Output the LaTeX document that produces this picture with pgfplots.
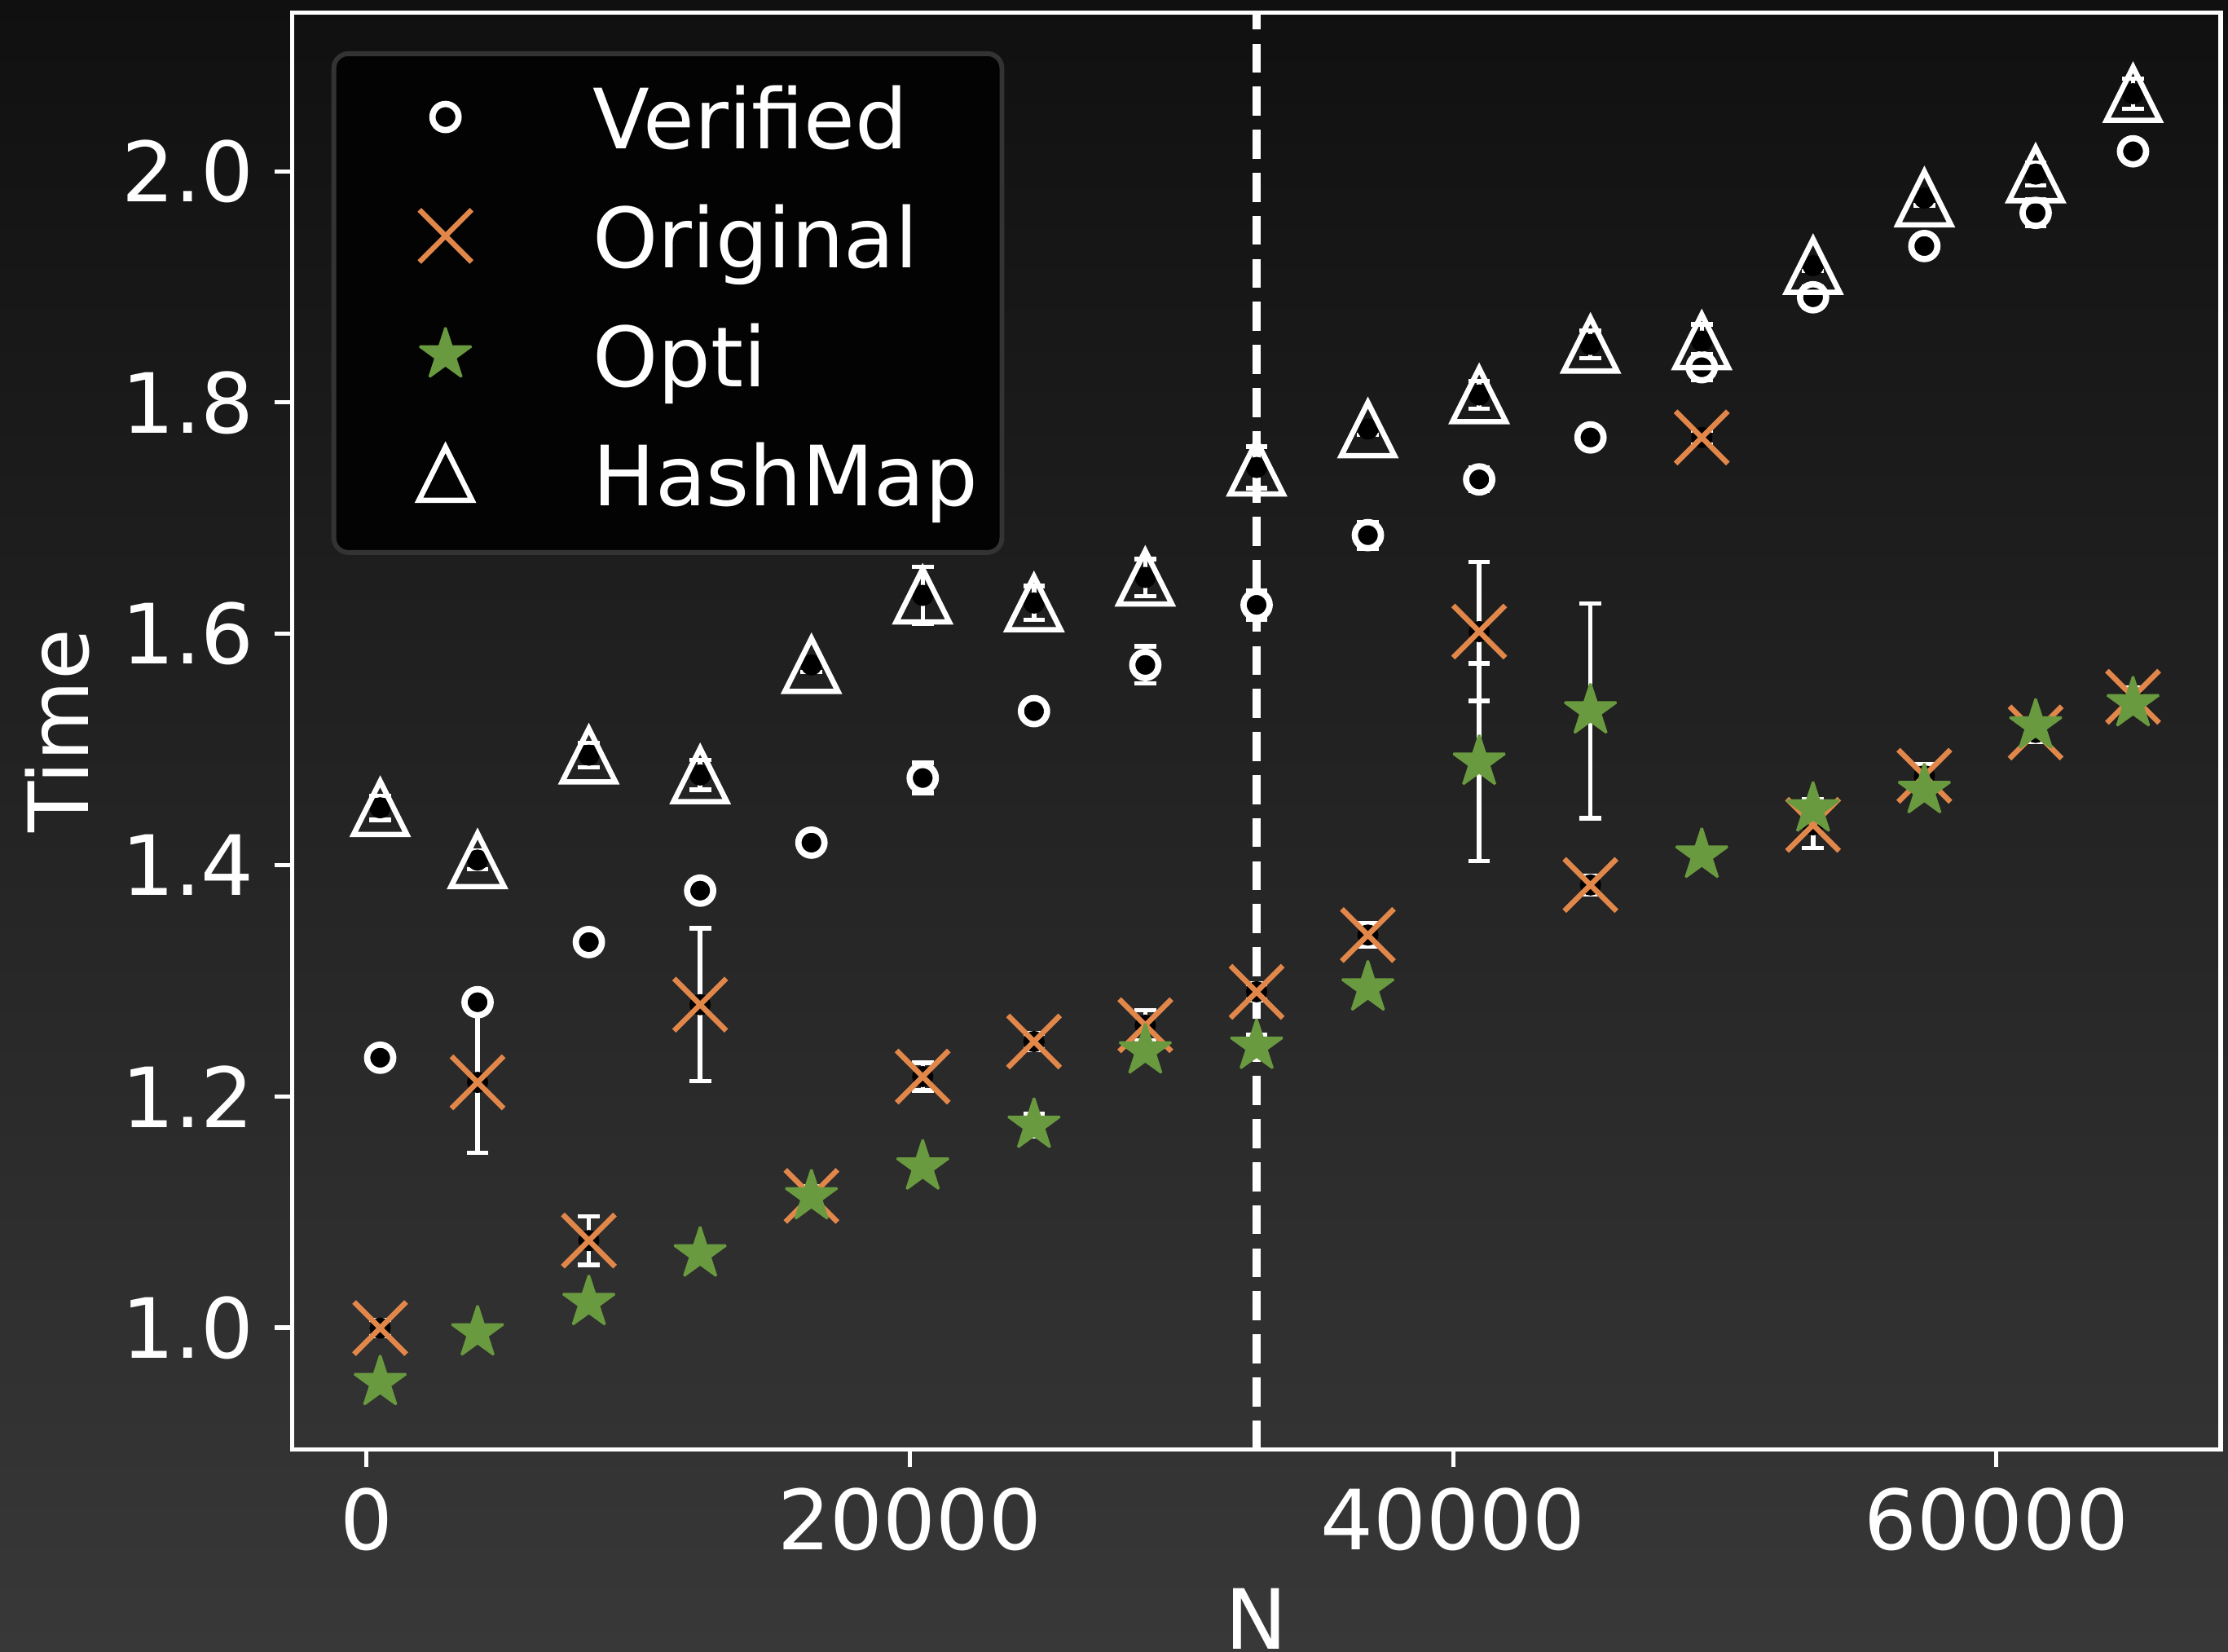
\documentclass[border=0pt]{standalone}
\usepackage{fontspec}
\setmainfont{DejaVu Sans}
\usepackage{pgfplots}
\pgfplotsset{compat=1.18}
\usepackage{pgfplotstable}

\definecolor{bgtop}{RGB}{16,16,16}
\definecolor{bgbot}{RGB}{56,56,56}
\definecolor{mplorange}{RGB}{226,135,74}
\definecolor{mplgreen}{RGB}{106,154,63}
\definecolor{legedge}{RGB}{51,51,51}
\definecolor{legfill}{RGB}{3,3,3}

\pgfdeclareplotmark{mpltri}{%
  \pgfpathmoveto{\pgfqpoint{0pt}{\pgfplotmarksize}}%
  \pgfpathlineto{\pgfqpoint{-\pgfplotmarksize}{-\pgfplotmarksize}}%
  \pgfpathlineto{\pgfqpoint{\pgfplotmarksize}{-\pgfplotmarksize}}%
  \pgfpathclose
  \pgfusepathqstroke}
\pgfdeclareplotmark{mplx}{%
  \pgfpathmoveto{\pgfqpoint{-\pgfplotmarksize}{-\pgfplotmarksize}}%
  \pgfpathlineto{\pgfqpoint{\pgfplotmarksize}{\pgfplotmarksize}}%
  \pgfpathmoveto{\pgfqpoint{-\pgfplotmarksize}{\pgfplotmarksize}}%
  \pgfpathlineto{\pgfqpoint{\pgfplotmarksize}{-\pgfplotmarksize}}%
  \pgfusepathqstroke}
\pgfdeclareplotmark{mplstar}{%
  \pgfpathmoveto{\pgfpointpolar{90}{\pgfplotmarksize}}%
  \pgfpathlineto{\pgfpointpolar{126}{0.381966\pgfplotmarksize}}%
  \pgfpathlineto{\pgfpointpolar{162}{\pgfplotmarksize}}%
  \pgfpathlineto{\pgfpointpolar{198}{0.381966\pgfplotmarksize}}%
  \pgfpathlineto{\pgfpointpolar{234}{\pgfplotmarksize}}%
  \pgfpathlineto{\pgfpointpolar{270}{0.381966\pgfplotmarksize}}%
  \pgfpathlineto{\pgfpointpolar{306}{\pgfplotmarksize}}%
  \pgfpathlineto{\pgfpointpolar{342}{0.381966\pgfplotmarksize}}%
  \pgfpathlineto{\pgfpointpolar{18}{\pgfplotmarksize}}%
  \pgfpathlineto{\pgfpointpolar{54}{0.381966\pgfplotmarksize}}%
  \pgfpathclose
  \pgfusepathqfillstroke}

\newcommand{\chartfont}{\fontsize{17.2bp}{20bp}\selectfont}

\pgfplotstableread{
x y e
512 1.2334 0.003
4096 1.2814 0.005
8192 1.3334 0.004
12288 1.3779 0.004
16384 1.4194 0.005
20480 1.4753 0.013
24576 1.5331 0.008
28672 1.5731 0.016
32768 1.6250 0.0126
36864 1.6853 0.0115
40960 1.7335 0.010
45056 1.7698 0.006
49152 1.8305 0.011
53248 1.8910 0.009
57344 1.9353 0.006
61440 1.9640 0.0115
65024 2.0172 0.005
}\verified

\pgfplotstableread{
x y e
512 0.9996 0.007
4096 1.2121 0.061
8192 1.0753 0.021
12288 1.2793 0.066
16384 1.1139 0.008
20480 1.2171 0.012
24576 1.2474 0.007
28672 1.2615 0.013
32768 1.2904 0.007
36864 1.3395 0.010
40960 1.6019 0.060
45056 1.3828 0.008
49152 1.7698 0.006
53248 1.4348 0.020
57344 1.4772 0.010
61440 1.5147 0.008
65024 1.5455 0.008
}\original

\pgfplotstableread{
x y e
512 0.9526 0.0015
4096 0.9956 0.004
8192 1.0218 0.005
12288 1.0638 0.005
16384 1.1133 0.005
20480 1.1390 0.005
24576 1.1751 0.010
28672 1.2394 0.008
32768 1.2434 0.010
36864 1.2938 0.006
40960 1.4890 0.0855
45056 1.5334 0.093
49152 1.4086 0.005
53248 1.4486 0.008
57344 1.4645 0.005
61440 1.5204 0.005
65024 1.5396 0.005
}\opti

\pgfplotstableread{
x y e
512 1.4495 0.0105
4096 1.4043 0.008
8192 1.4950 0.0106
12288 1.4779 0.0128
16384 1.5731 0.006
20480 1.6332 0.0247
24576 1.6266 0.0147
28672 1.6487 0.016
32768 1.7438 0.018
36864 1.7770 0.005
40960 1.8065 0.012
45056 1.8502 0.012
49152 1.8531 0.0145
53248 1.9183 0.0047
57344 1.9767 0.0063
61440 1.9975 0.0099
65024 2.0670 0.013
}\hashmap

\pgfplotsset{
  errbars/.style={forget plot, only marks, mark=none,
    error bars/.cd, y dir=both, y explicit, error mark=|,
    error bar style={white, line width=0.9bp, solid},
    error mark options={white, line width=0.9bp, mark size=2.25bp, solid}},
}

\begin{document}
\begin{tikzpicture}
\useasboundingbox (0,0) rectangle (461bp,341.62bp);
\shade[top color=bgtop, bottom color=bgbot] (0,0) rectangle (461bp,341.62bp);
\begin{axis}[
  at={(60.53bp,41.77bp)}, anchor=south west,
  scale only axis, width=398.95bp, height=297.2bp,
  xmin=-2713.6, xmax=68249.6, ymin=0.8948, ymax=2.137,
  axis line style={white, line width=0.85bp},
  tick align=outside, xtick pos=left, ytick pos=left,
  major tick length=3.7bp,
  every tick/.style={white, line width=0.85bp},
  xtick={0,20000,40000,60000}, xticklabels={0,20000,40000,60000},
  ytick={1.0,1.2,1.4,1.6,1.8,2.0}, yticklabels={1.0,1.2,1.4,1.6,1.8,2.0},
  scaled x ticks=false, scaled y ticks=false,
  xticklabel style={font=\chartfont, text=white, inner sep=0pt, anchor=north, yshift=-4.06bp},
  yticklabel style={font=\chartfont, text=white, inner sep=0pt, anchor=east, xshift=-4.07bp},
  xlabel={N}, ylabel={Time},
  xlabel style={font=\chartfont, text=white, inner sep=0pt, at={(axis description cs:0.5,0)}, anchor=north, yshift=-28.55bp},
  ylabel style={font=\chartfont, text=white, inner sep=0pt, at={(axis description cs:-0.10593,0.5)}, anchor=base},
  legend style={
    at={(axis description cs:0.02143,0.97153)}, anchor=north west,
    fill=legfill, draw=legedge, line width=1bp, rounded corners=3bp,
    outer sep=0pt, inner xsep=5bp, inner ysep=5.7bp,
    row sep=6.6bp, column sep=12.4bp,
    font=\chartfont, text=white,
    nodes={inner sep=0pt, text height=14bp, text depth=4bp, text=white},
  },
  legend cell align=left,
  legend image code/.code={%
    \path (0bp,0bp) (35.2bp,0bp);
    \draw[sharp corners, #1] plot coordinates {(17.6bp,1.6bp)};
  },
]
\addplot[forget plot, white, line width=1.65bp, dash pattern=on 6bp off 2.9bp] coordinates {(32768,0.8948) (32768,2.137)};

\addplot[errbars] table[x=x, y=y, y error=e] {\verified};
\addplot[only marks, mark=o, mark size=2.7bp, white, mark options={line width=1.3bp, solid}] table[x=x, y=y] {\verified};
\addlegendentry{Verified}

\addplot[errbars] table[x=x, y=y, y error=e] {\original};
\addplot[only marks, mark=mplx, mark size=5.4bp, mplorange, mark options={line width=1.1bp, solid}] table[x=x, y=y] {\original};
\addlegendentry{Original}

\addplot[errbars] table[x=x, y=y, y error=e] {\opti};
\addplot[only marks, mark=mplstar, mark size=5.6bp, mplgreen, mark options={line width=0.5bp, line join=bevel, fill=mplgreen, solid}] table[x=x, y=y] {\opti};
\addlegendentry{Opti}

\addplot[errbars] table[x=x, y=y, y error=e] {\hashmap};
\addplot[only marks, mark=mpltri, mark size=5.5bp, white, mark options={line width=1.1bp, line join=miter, solid}] table[x=x, y=y] {\hashmap};
\addlegendentry{HashMap}
\end{axis}
\end{tikzpicture}
\end{document}
